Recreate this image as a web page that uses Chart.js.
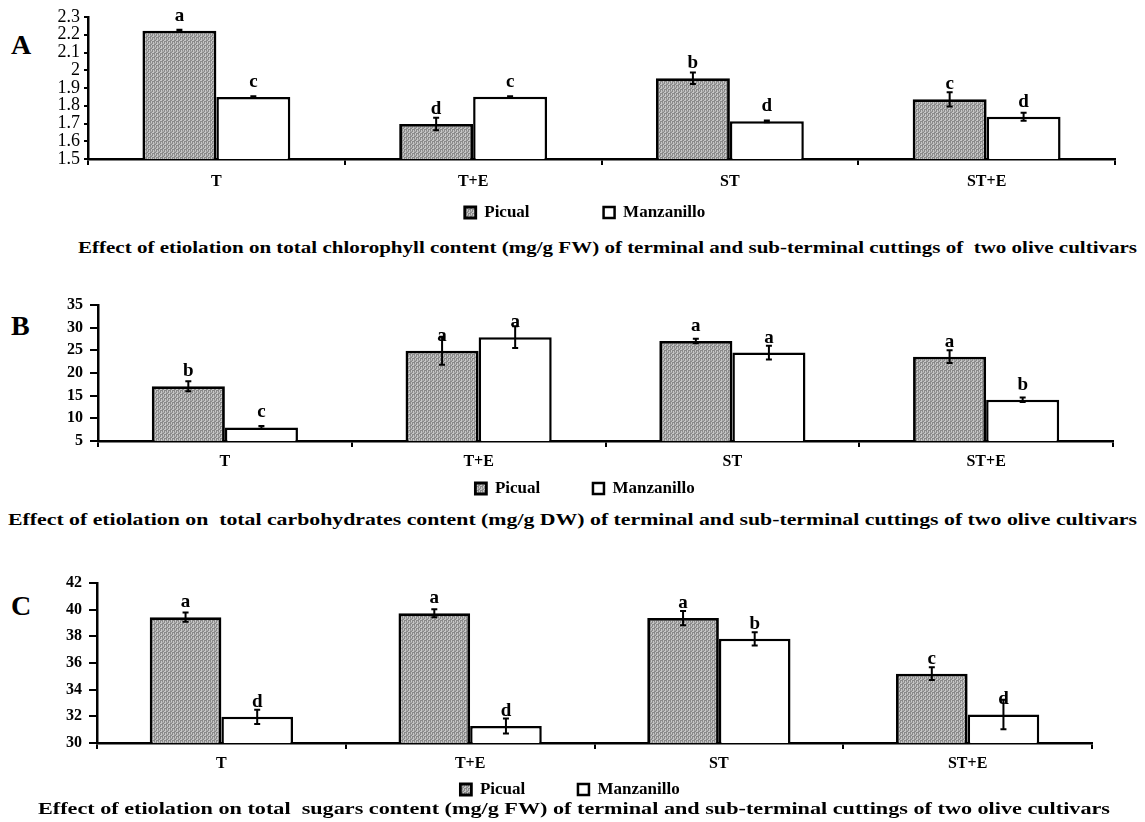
<!DOCTYPE html>
<html>
<head>
<meta charset="utf-8">
<script src="https://cdn.jsdelivr.net/npm/chart.js@4.4.1/dist/chart.umd.min.js"></script>
<style>
  body { margin: 0; background: #fff; }
  #page { position: relative; width: 1145px; height: 822px; overflow: hidden; background: #fff; }
  canvas { position: absolute; left: 0; }
  .panel { position: absolute; left: 11px; font: bold 28px 'Liberation Serif', 'Times New Roman', serif; line-height: 28px; color: #000; }
  .caption { position: absolute; font: bold 17px 'Liberation Serif', 'Times New Roman', serif; line-height: 20px; color: #000;
             white-space: pre; transform-origin: 0 50%; }
</style>
</head>
<body>
<div id="page">
  <div class="panel" style="top:31px">A</div>
  <div class="panel" style="top:312px">B</div>
  <div class="panel" style="top:592px">C</div>

  <canvas id="chartA" width="1145" height="231" style="top:0px"></canvas>
  <canvas id="chartB" width="1145" height="222" style="top:285px"></canvas>
  <canvas id="chartC" width="1145" height="245" style="top:563px"></canvas>

  <div class="caption" data-width="1059" style="left:78px; top:238px">Effect of etiolation on total chlorophyll content (mg/g FW) of terminal and sub-terminal cuttings of  two olive cultivars</div>
  <div class="caption" data-width="1129" style="left:8px; top:510px">Effect of etiolation on  total carbohydrates content (mg/g DW) of terminal and sub-terminal cuttings of two olive cultivars</div>
  <div class="caption" data-width="1072" style="left:38px; top:799px">Effect of etiolation on total  sugars content (mg/g FW) of terminal and sub-terminal cuttings of two olive cultivars</div>
</div>

<script>
// --- data ---
const categories  = ['T', 'T+E', 'ST', 'ST+E'];
const seriesNames = ['Picual', 'Manzanillo'];

// A: total chlorophyll (mg/g FW)
const chlPicual     = [2.223, 1.697, 1.955, 1.836];
const chlPicualErr  = [0.005, 0.035, 0.033, 0.040];
const chlPicualSig  = ['a', 'd', 'b', 'c'];
const chlManz       = [1.850, 1.851, 1.712, 1.738];
const chlManzErr    = [0.003, 0.002, 0.005, 0.023];
const chlManzSig    = ['c', 'c', 'd', 'd'];
const chlTicks      = [1.5, 2.3, 0.1];

// B: total carbohydrates (mg/g DW)
const carbPicual    = [17.1, 24.9, 27.05, 23.6];
const carbPicualErr = [1.1, 3.1, 0.5, 1.4];
const carbPicualSig = ['b', 'a', 'a', 'a'];
const carbManz      = [8.0, 27.9, 24.5, 14.1];
const carbManzErr   = [0.3, 2.4, 1.5, 0.5];
const carbManzSig   = ['c', 'a', 'a', 'b'];
const carbTicks     = [5, 35, 5];

// C: total sugars (mg/g FW)
const sugPicual     = [39.44, 39.74, 39.37, 35.2];
const sugPicualErr  = [0.34, 0.30, 0.53, 0.48];
const sugPicualSig  = ['a', 'a', 'a', 'c'];
const sugManz       = [31.96, 31.28, 37.81, 32.14];
const sugManzErr    = [0.54, 0.56, 0.49, 1.1];
const sugManzSig    = ['d', 'd', 'b', 'd'];
const sugTicks      = [30, 42, 2];

const SERIF = "'Liberation Serif', 'Times New Roman', serif";
Chart.defaults.color = '#000';
Chart.defaults.font.family = SERIF;

// grey stipple used for the Picual bars
function makeStipple() {
  const c = document.createElement('canvas');
  c.width = 4; c.height = 4;
  const g = c.getContext('2d');
  g.fillStyle = '#8a8a8a';
  g.fillRect(0, 0, 4, 4);
  g.fillStyle = '#c6c6c6';
  g.fillRect(0, 0, 2, 1);
  g.fillRect(3, 1, 1, 2);
  g.fillRect(1, 2, 1, 2);
  g.fillStyle = '#a4a4a4';
  g.fillRect(2, 3, 2, 1);
  return c.getContext('2d').createPattern(c, 'repeat');
}
const stipple = makeStipple();

// error bars + significance letters
const errorBarPlugin = {
  id: 'errorBars',
  afterDatasetsDraw(chart) {
    const ctx = chart.ctx;
    const y = chart.scales.y;
    chart.data.datasets.forEach((ds, i) => {
      const meta = chart.getDatasetMeta(i);
      meta.data.forEach((bar, j) => {
        const v = ds.data[j], e = ds.errors[j];
        const top = y.getPixelForValue(v + e);
        const bot = y.getPixelForValue(v - e);
        ctx.save();
        ctx.fillStyle = '#000';
        ctx.font = `bold 19px ${SERIF}`;
        ctx.textAlign = 'center';
        ctx.textBaseline = 'alphabetic';
        ctx.fillText(ds.sig[j], bar.x, y.getPixelForValue(v) - 10);
        ctx.strokeStyle = '#000';
        ctx.lineWidth = 2;
        ctx.beginPath();
        ctx.moveTo(bar.x, top - 1); ctx.lineTo(bar.x, bot + 1);
        ctx.moveTo(bar.x - 3, top); ctx.lineTo(bar.x + 3, top);
        ctx.moveTo(bar.x - 3, bot); ctx.lineTo(bar.x + 3, bot);
        ctx.stroke();
        ctx.restore();
      });
    });
  }
};

function makeChart(id, s) {
  const [min, max, step] = s.ticks;
  return new Chart(document.getElementById(id), {
    type: 'bar',
    data: {
      labels: categories,
      datasets: [
        {
          label: seriesNames[0],
          data: s.picual, errors: s.picualErr, sig: s.picualSig,
          backgroundColor: stipple, borderColor: '#000', borderWidth: 2.8, borderSkipped: false,
        },
        {
          label: seriesNames[1],
          data: s.manz, errors: s.manzErr, sig: s.manzSig,
          backgroundColor: '#fff', borderColor: '#000', borderWidth: 2.5, borderSkipped: false,
        },
      ],
    },
    options: {
      responsive: false,
      animation: false,
      events: [],
      categoryPercentage: 0.576,
      barPercentage: 1,
      layout: { padding: { top: s.padTop, right: s.padRight, left: s.padLeft, bottom: 0 } },
      plugins: {
        tooltip: { enabled: false },
        legend: {
          position: 'bottom',
          labels: {
            font: { family: SERIF, size: 17, weight: 'bold' },
            boxWidth: 11, boxHeight: 11, padding: 6,
            generateLabels(chart) {
              const items = Chart.defaults.plugins.legend.labels.generateLabels(chart);
              items[0].text += ' '.repeat(s.legendGap);
              return items;
            },
          },
        },
      },
      scales: {
        x: {
          afterFit: sc => { sc.height = s.xHeight; },
          grid: { offset: true, drawOnChartArea: false, drawTicks: true, tickLength: 6, color: '#000', lineWidth: 2 },
          border: { display: true, color: '#000', width: 2.5 },
          ticks: { font: { family: SERIF, size: 16, weight: 'bold' }, padding: s.xPad, color: '#000' },
        },
        y: {
          min, max,
          afterFit: sc => { sc.width = s.axisX - s.padLeft; },
          grid: { drawOnChartArea: false, drawTicks: true, tickLength: s.yTick, color: '#000', lineWidth: 2 },
          border: { display: true, color: '#000', width: 2.5 },
          ticks: {
            stepSize: step,
            autoSkip: false,
            font: { family: SERIF, size: s.yFont, weight: s.yWeight },
            padding: s.yPad,
            color: '#000',
            callback: v => String(+v.toFixed(1)),
          },
        },
      },
    },
    plugins: [errorBarPlugin],
  });
}

makeChart('chartA', {
  picual: chlPicual, picualErr: chlPicualErr, picualSig: chlPicualSig,
  manz: chlManz, manzErr: chlManzErr, manzSig: chlManzSig, ticks: chlTicks,
  padTop: 17, padRight: 30, padLeft: 55, axisX: 88, xHeight: 39, xPad: 7,
  yTick: 4, yPad: 4, yFont: 18, yWeight: 'normal', legendGap: 16,
});
makeChart('chartB', {
  picual: carbPicual, picualErr: carbPicualErr, picualSig: carbPicualSig,
  manz: carbManz, manzErr: carbManzErr, manzSig: carbManzSig, ticks: carbTicks,
  padTop: 20, padRight: 32, padLeft: 57, axisX: 98, xHeight: 33, xPad: 5,
  yTick: 8, yPad: 7, yFont: 16, yWeight: 'bold', legendGap: 11,
});
makeChart('chartC', {
  picual: sugPicual, picualErr: sugPicualErr, picualSig: sugPicualSig,
  manz: sugManz, manzErr: sugManzErr, manzSig: sugManzSig, ticks: sugTicks,
  padTop: 20, padRight: 53, padLeft: 48, axisX: 97, xHeight: 32, xPad: 5,
  yTick: 8, yPad: 7, yFont: 16, yWeight: 'bold', legendGap: 11,
});

// stretch each caption to the width it spans in the figure
document.querySelectorAll('.caption').forEach(el => {
  const natural = el.getBoundingClientRect().width;
  el.style.transform = `scaleX(${(+el.dataset.width / natural).toFixed(4)})`;
});
</script>
</body>
</html>
